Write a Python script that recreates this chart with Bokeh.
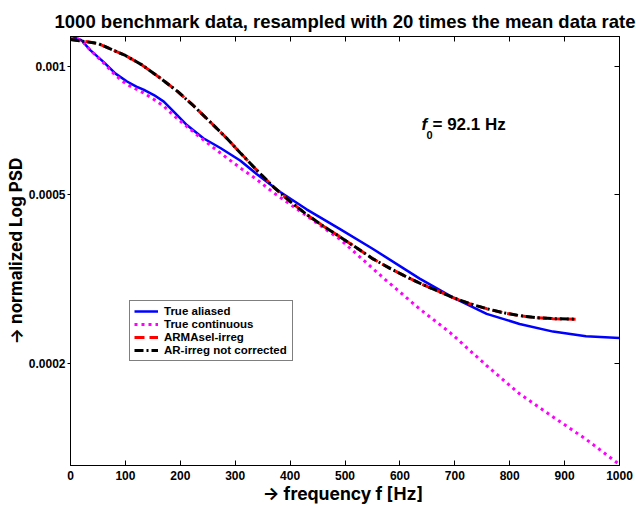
import numpy as np
from bokeh.plotting import figure
from bokeh.models import (LinearAxis, LogAxis, FixedTicker, Label, Legend,
                          LegendItem, Range1d, CustomJSTickFormatter)
from bokeh.embed import file_html
from bokeh.resources import INLINE

# ---------------- data ----------------
freq_aliased = [0, 20, 36, 61, 82, 103, 120, 133, 152, 170, 188, 212, 242, 273,
                309, 339, 382, 430, 491, 551, 636, 697, 758, 818, 879, 939, 1000]
psd_aliased = [1.175e-3, 1.15e-3, 1.09e-3, 1.02e-3, 9.6e-4, 9.2e-4, 8.95e-4,
               8.8e-4, 8.55e-4, 8.25e-4, 7.82e-4, 7.27e-4, 6.77e-4, 6.42e-4,
               6.0e-4, 5.58e-4, 5.06e-4, 4.61e-4, 4.14e-4, 3.72e-4, 3.17e-4,
               2.86e-4, 2.62e-4, 2.48e-4, 2.38e-4, 2.32e-4, 2.30e-4]

freq_cont = [0, 20, 36, 61, 82, 103, 133, 152, 170, 188, 230, 273, 309, 339,
             370, 430, 491, 570, 636, 691, 758, 818, 879, 939, 1000]
psd_cont = [1.175e-3, 1.15e-3, 1.09e-3, 1.015e-3, 9.5e-4, 9.05e-4, 8.65e-4,
            8.35e-4, 8.05e-4, 7.65e-4, 6.9e-4, 6.25e-4, 5.77e-4, 5.42e-4,
            5.04e-4, 4.45e-4, 3.92e-4, 3.18e-4, 2.69e-4, 2.37e-4, 1.98e-4,
            1.70e-4, 1.50e-4, 1.33e-4, 1.16e-4]

freq_armasel = [0, 50, 100, 130, 164, 195, 224, 255, 285, 309, 339, 370, 400,
                430, 460, 491, 521, 551, 582, 612, 642, 672, 697, 727, 758,
                788, 818, 849, 879, 920]
psd_armasel = [1.155e-3, 1.130e-3, 1.059e-3, 1.0065e-3, 9.36e-4, 8.72e-4,
               8.07e-4, 7.38e-4, 6.76e-4, 6.26e-4, 5.70e-4, 5.20e-4, 4.81e-4,
               4.484e-4, 4.214e-4, 3.972e-4, 3.743e-4, 3.526e-4, 3.35e-4,
               3.20e-4, 3.067e-4, 2.953e-4, 2.859e-4, 2.768e-4, 2.694e-4,
               2.636e-4, 2.594e-4, 2.566e-4, 2.552e-4, 2.545e-4]

freq_ar = [0, 50, 100, 130, 164, 195, 224, 255, 285, 309, 339, 370, 400,
           430, 460, 491, 521, 551, 582, 612, 642, 672, 697, 727, 758,
           788, 818, 849, 879, 920]
psd_ar = [1.155e-3, 1.130e-3, 1.059e-3, 1.0065e-3, 9.36e-4, 8.72e-4,
          8.07e-4, 7.38e-4, 6.76e-4, 6.26e-4, 5.70e-4, 5.20e-4, 4.81e-4,
          4.484e-4, 4.214e-4, 3.972e-4, 3.743e-4, 3.526e-4, 3.35e-4,
          3.20e-4, 3.067e-4, 2.953e-4, 2.859e-4, 2.768e-4, 2.694e-4,
          2.636e-4, 2.594e-4, 2.566e-4, 2.552e-4, 2.545e-4]

series_labels = ["True aliased", "True continuous", "ARMAsel-irreg",
                 "AR-irreg not corrected"]

x_ticks = [0, 100, 200, 300, 400, 500, 600, 700, 800, 900, 1000]
y_ticks = [0.0002, 0.0005, 0.001]
y_tick_labels = ["0.0002", "0.0005", "0.001"]

title_text = "1000 benchmark data, resampled with 20 times the mean data rate"
xlabel_text = "\u2192  frequency f [Hz]"
ylabel_text = "\u2192 normalized Log PSD"

FONT = "Liberation Sans"
LABEL_FONT = "Inter"

# ---------------- figure ----------------
p = figure(width=636, height=506, x_range=Range1d(0, 1000),
           y_range=Range1d(1.154e-4, 1.1733e-3), y_axis_type="log",
           output_backend="svg", toolbar_location=None,
           min_border_left=70, min_border_right=17,
           min_border_top=36, min_border_bottom=40)
p.grid.visible = False
p.outline_line_color = "black"
p.outline_line_width = 1
p.background_fill_color = "white"
p.border_fill_color = "white"

p.title.text = title_text
p.title.align = "center"
p.title.text_font = FONT
p.title.text_font_style = "bold"
p.title.text_font_size = "18.5px"
p.title.text_color = "black"
p.title.standoff = 9

r_blue = p.line(freq_aliased, psd_aliased, line_color="#0000ff", line_width=2.5)
r_mag = p.line(freq_cont, psd_cont, line_color="#ff00ff", line_width=3,
               line_dash="3 4")
r_red = p.line(freq_armasel, psd_armasel, line_color="#ff0000", line_width=3,
               line_dash="10 5")
r_blk = p.line(freq_ar, psd_ar, line_color="black", line_width=3,
               line_dash="9 3 2 3")

ytick_fmt = CustomJSTickFormatter(args=dict(tv=y_ticks, tl=y_tick_labels), code="""
    for (let i = 0; i < tv.length; i++) {
        if (Math.abs(tv[i] - tick) < 1e-12) { return tl[i]; }
    }
    return '';
""")
blank_fmt = CustomJSTickFormatter(code="return '';")

# bottom axis
xa = p.xaxis[0]
xa.ticker = FixedTicker(ticks=x_ticks)
xa.major_tick_in = 5
xa.major_tick_out = 0
xa.minor_tick_line_color = None
xa.major_label_standoff = 5
xa.major_label_text_font = FONT
xa.major_label_text_font_style = "bold"
xa.major_label_text_font_size = "12px"
xa.major_label_text_color = "black"
xa.axis_line_color = "black"
xa.axis_label = xlabel_text
xa.axis_label_standoff = 0
xa.axis_label_text_font = LABEL_FONT
xa.axis_label_text_font_style = "bold"
xa.axis_label_text_font_size = "17.5px"
xa.axis_label_text_color = "black"

# left axis
ya = p.yaxis[0]
ya.ticker = FixedTicker(ticks=y_ticks)
ya.formatter = ytick_fmt
ya.major_tick_in = 0
ya.major_tick_out = 3
ya.minor_tick_line_color = None
ya.major_label_standoff = 2
ya.major_label_text_font = FONT
ya.major_label_text_font_style = "bold"
ya.major_label_text_font_size = "12px"
ya.major_label_text_color = "black"
ya.axis_line_color = "black"
ya.axis_label = ylabel_text
ya.axis_label_standoff = 0
ya.axis_label_text_font = LABEL_FONT
ya.axis_label_text_font_style = "bold"
ya.axis_label_text_font_size = "17px"
ya.axis_label_text_color = "black"

# mirrored axes (ticks only)
top = LinearAxis(ticker=FixedTicker(ticks=x_ticks), formatter=blank_fmt,
                 major_tick_in=5, major_tick_out=0, minor_tick_line_color=None,
                 major_label_standoff=0, major_label_text_font_size="0px",
                 axis_line_color="black")
right = LogAxis(ticker=FixedTicker(ticks=y_ticks), formatter=blank_fmt,
                major_tick_in=5, major_tick_out=0, minor_tick_line_color=None,
                major_label_standoff=0, major_label_text_font_size="0px",
                axis_line_color="black")
p.add_layout(top, "above")
p.add_layout(right, "right")

# legend
legend = Legend(items=[LegendItem(label=series_labels[0], renderers=[r_blue]),
                       LegendItem(label=series_labels[1], renderers=[r_mag]),
                       LegendItem(label=series_labels[2], renderers=[r_red]),
                       LegendItem(label=series_labels[3], renderers=[r_blk])],
                location=(59, 104), orientation="vertical",
                label_text_font=FONT, label_text_font_style="bold",
                label_text_font_size="11.5px", label_text_color="black",
                label_height=12, glyph_height=12, glyph_width=24,
                label_standoff=6, spacing=1, padding=4, margin=0,
                label_width=124,
                border_line_color="black", border_line_width=1,
                background_fill_color="white", background_fill_alpha=1.0)
p.add_layout(legend)

# f_0 annotation (screen units relative to the frame's bottom-left)
p.add_layout(Label(x=351, y=341, x_units="screen", y_units="screen",
                   text="f", text_align="left", text_baseline="alphabetic",
                   text_font=FONT, text_font_style="bold italic",
                   text_font_size="17px", text_color="black"))
p.add_layout(Label(x=356, y=331, x_units="screen", y_units="screen",
                   text="0", text_align="left", text_baseline="alphabetic",
                   text_font=FONT, text_font_style="bold",
                   text_font_size="11px", text_color="black"))
p.add_layout(Label(x=362, y=341, x_units="screen", y_units="screen",
                   text="= 92.1 Hz", text_align="left",
                   text_baseline="alphabetic", text_font=FONT,
                   text_font_style="bold", text_font_size="17px",
                   text_color="black"))

open("out.html", "w").write(file_html(p, INLINE))
